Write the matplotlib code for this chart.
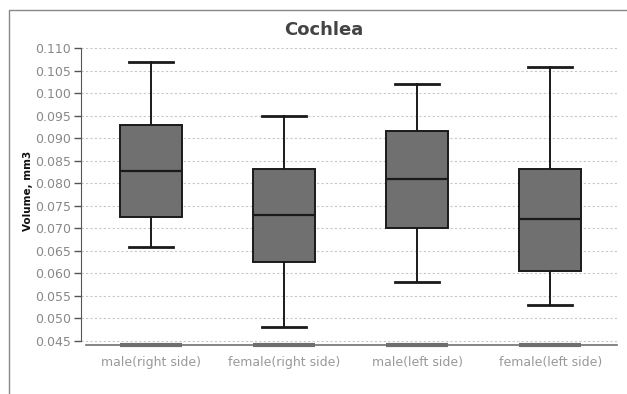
import matplotlib
matplotlib.use("Agg")
import matplotlib.pyplot as plt
from matplotlib.lines import Line2D

# values (mm3)
categories = ["male(right side)", "female(right side)", "male(left side)", "female(left side)"]
whisker_low = [0.0659, 0.0481, 0.0580, 0.0529]
q1 = [0.0726, 0.0625, 0.0701, 0.0605]
median = [0.0827, 0.0729, 0.0809, 0.0720]
q3 = [0.0929, 0.0832, 0.0916, 0.0832]
whisker_high = [0.1069, 0.0949, 0.1021, 0.1059]
y_ticks = [0.045, 0.050, 0.055, 0.060, 0.065, 0.070, 0.075, 0.080,
           0.085, 0.090, 0.095, 0.100, 0.105, 0.110]

fig = plt.figure(figsize=(6.27, 3.94), dpi=100)
ax = fig.add_axes([81 / 627, 1 - 345 / 394, (617 - 81) / 627, (345 - 48) / 394])

stats = []
for i, name in enumerate(categories):
    stats.append({
        "label": name,
        "whislo": whisker_low[i],
        "q1": q1[i],
        "med": median[i],
        "q3": q3[i],
        "whishi": whisker_high[i],
        "fliers": [],
    })

positions = list(range(len(categories)))
box_w = 0.466
ax.bxp(stats, positions=positions, widths=box_w, patch_artist=True,
       showfliers=False,
       boxprops=dict(facecolor="#707070", edgecolor="#1a1a1a", linewidth=1.4),
       medianprops=dict(color="#1a1a1a", linewidth=1.6),
       whiskerprops=dict(color="#1a1a1a", linewidth=1.4),
       capprops=dict(color="#1a1a1a", linewidth=2.0),
       capwidths=0.33)

y_bottom = 0.0441
ax.set_ylim(y_bottom, 0.1101)
ax.set_xlim(-0.526, 3.5)

# small grey base bars under each box
ax.hlines([y_bottom] * len(positions), [p - box_w / 2 for p in positions],
          [p + box_w / 2 for p in positions], color="#6e6e6e", linewidth=3,
          zorder=4, clip_on=False)

ax.set_yticks(y_ticks)
ax.set_yticklabels(["%.3f" % t for t in y_ticks])
ax.set_xticks(positions)
ax.set_xticklabels(categories)
ax.tick_params(axis="y", colors="#555555", labelcolor="#888888", labelsize=9,
               length=5, width=1, direction="out", pad=2)
ax.tick_params(axis="x", length=0, labelcolor="#999999", labelsize=9, pad=8)

ax.yaxis.grid(True, linestyle=(0, (2, 2)), color="#c8c8c8", linewidth=0.8)
ax.set_axisbelow(True)

for s in ["top", "right"]:
    ax.spines[s].set_visible(False)
ax.spines["left"].set_bounds(0.045, 0.110)
ax.spines["left"].set_color("#555555")
ax.spines["bottom"].set_bounds(-0.489, 3.5)
ax.spines["bottom"].set_color("#707070")
ax.spines["bottom"].set_linewidth(1.2)

fig.text(324 / 627, 1 - 30 / 394, "Cochlea", ha="center", va="center",
         fontsize=13, fontweight="bold", color="#444444")
fig.text(28 / 627, 1 - 191 / 394, "Volume, mm3", ha="center", va="center",
         rotation=90, fontsize=7.5, fontweight="bold", color="#111111")

# outer panel frame (left and top edges)
fig.add_artist(Line2D([9 / 627, 9 / 627, 1], [0, 1 - 10 / 394, 1 - 10 / 394],
                      transform=fig.transFigure, color="#888888", linewidth=1))

fig.savefig("out.png", dpi=100)
